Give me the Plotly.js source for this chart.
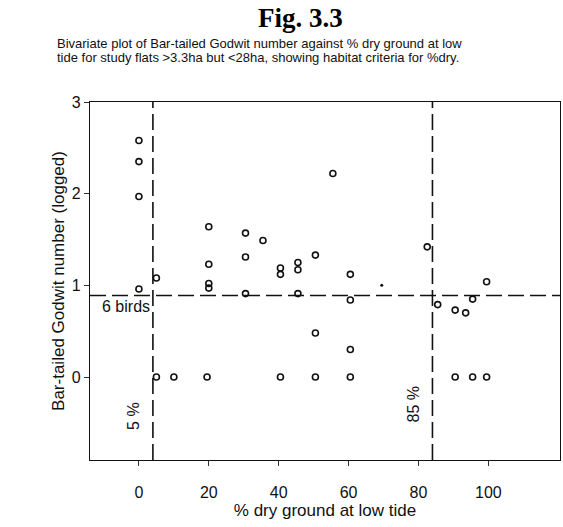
<!DOCTYPE html>
<html>
<head>
<meta charset="utf-8">
<script src="https://cdn.plot.ly/plotly-3.0.1.min.js"></script>
<style>html,body{margin:0;padding:0;background:#fff;}#chart{width:563px;height:527px;}</style>
</head>
<body>
<div id="chart"></div>
<script>
// % dry ground at low tide
var dryPct = [0, 0, 0, 0, 5, 5, 10, 20, 20, 20, 20, 19.5, 30.5, 30.5, 30.5, 35.5, 40.5, 40.5, 40.5, 45.5, 45.5, 45.5, 50.5, 50.5, 50.5, 55.5, 60.5, 60.5, 60.5, 60.5, 82.5, 85.5, 90.5, 90.5, 93.5, 95.5, 95.5, 99.5, 99.5];
// Bar-tailed Godwit number (logged)
var godwitLog = [2.58, 2.35, 1.97, 0.96, 1.08, 0, 0, 1.64, 1.23, 1.02, 0.97, 0, 1.57, 1.31, 0.91, 1.49, 1.19, 1.12, 0, 1.25, 1.17, 0.91, 1.33, 0.48, 0, 2.22, 1.12, 0.84, 0.30, 0, 1.42, 0.79, 0.73, 0, 0.70, 0.85, 0, 1.04, 0];
// tiny dot
var dotX = [69.5];
var dotY = [1.0];
// habitat criteria
var criteriaDryLow = 4;
var criteriaDryHigh = 84;
var criteriaBirdsLog = 0.89;
var xTicks = [0, 20, 40, 60, 80, 100];
var yTicks = [0, 1, 2, 3];

var traces = [
  {x: dryPct, y: godwitLog, type: 'scatter', mode: 'markers',
   marker: {symbol: 'circle-open', size: 6, color: '#111', line: {width: 1.6, color: '#111'}},
   hoverinfo: 'x+y'},
  {x: dotX, y: dotY, type: 'scatter', mode: 'markers',
   marker: {symbol: 'circle', size: 3, color: '#111'}}
];

var sans = 'Liberation Sans, Arial, sans-serif';
var dashStyle = {color: '#111', width: 1.6, dash: '16px,6px'};
var layout = {
  width: 563, height: 527,
  margin: {l: 90, r: 3, t: 102, b: 67},
  paper_bgcolor: '#fff', plot_bgcolor: '#fff',
  showlegend: false,
  font: {family: sans, color: '#111'},
  xaxis: {range: [-14, 120.5], tickvals: xTicks, ticks: 'outside', ticklen: 5, tickcolor: '#333',
    ticklabelstandoff: 13,
    showgrid: false, zeroline: false, showline: true, mirror: true, linecolor: '#111', linewidth: 1.2,
    tickfont: {size: 16, family: sans},
    title: {text: '% dry ground at low tide', font: {size: 17}, standoff: 3}},
  yaxis: {range: [-0.905, 3], tickvals: yTicks, ticks: 'outside', ticklen: 5, tickcolor: '#333',
    showgrid: false, zeroline: false, showline: true, mirror: true, linecolor: '#111', linewidth: 1.2,
    tickfont: {size: 16, family: sans},
    title: {text: 'Bar-tailed Godwit number (logged)', font: {size: 17}, standoff: 2}},
  shapes: [
    {type: 'line', xref: 'paper', yref: 'y', x0: 0, x1: 1, y0: criteriaBirdsLog, y1: criteriaBirdsLog, line: dashStyle},
    {type: 'line', xref: 'x', yref: 'paper', x0: criteriaDryLow, x1: criteriaDryLow, y0: 0, y1: 1, line: dashStyle},
    {type: 'line', xref: 'x', yref: 'paper', x0: criteriaDryHigh, x1: criteriaDryHigh, y0: 0, y1: 1, line: dashStyle}
  ],
  annotations: [
    {text: '<b>Fig. 3.3</b>', xref: 'paper', yref: 'paper', x: 0.447, y: 1, yshift: 84, showarrow: false,
     font: {family: 'Liberation Serif, Times New Roman, serif', size: 27, color: '#000'}, xanchor: 'center', yanchor: 'middle'},
    {text: 'Bivariate plot of Bar-tailed Godwit number against % dry ground at low',
     xref: 'paper', yref: 'paper', x: 0, xshift: -35, y: 1, yshift: 59, showarrow: false, align: 'left',
     font: {family: sans, size: 13, color: '#111'}, xanchor: 'left', yanchor: 'middle'},
    {text: 'tide for study flats >3.3ha but <28ha, showing habitat criteria for %dry.',
     xref: 'paper', yref: 'paper', x: 0, xshift: -35, y: 1, yshift: 45, showarrow: false, align: 'left',
     font: {family: sans, size: 13, color: '#111'}, xanchor: 'left', yanchor: 'middle'},
    {text: '6 birds', xref: 'x', yref: 'y', x: criteriaDryLow, y: criteriaBirdsLog, xanchor: 'right', yanchor: 'top',
     xshift: -1, yshift: -1, showarrow: false, font: {size: 16}},
    {text: '5 %', xref: 'x', yref: 'y', x: criteriaDryLow, y: -0.42, xanchor: 'right', yanchor: 'middle', textangle: -90,
     xshift: -9, showarrow: false, font: {size: 16}},
    {text: '85 %', xref: 'x', yref: 'y', x: criteriaDryHigh, y: -0.3, xanchor: 'right', yanchor: 'middle', textangle: -90,
     xshift: -8, showarrow: false, font: {size: 16}}
  ]
};
Plotly.newPlot('chart', traces, layout, {displayModeBar: false, staticPlot: true});
</script>
</body>
</html>
